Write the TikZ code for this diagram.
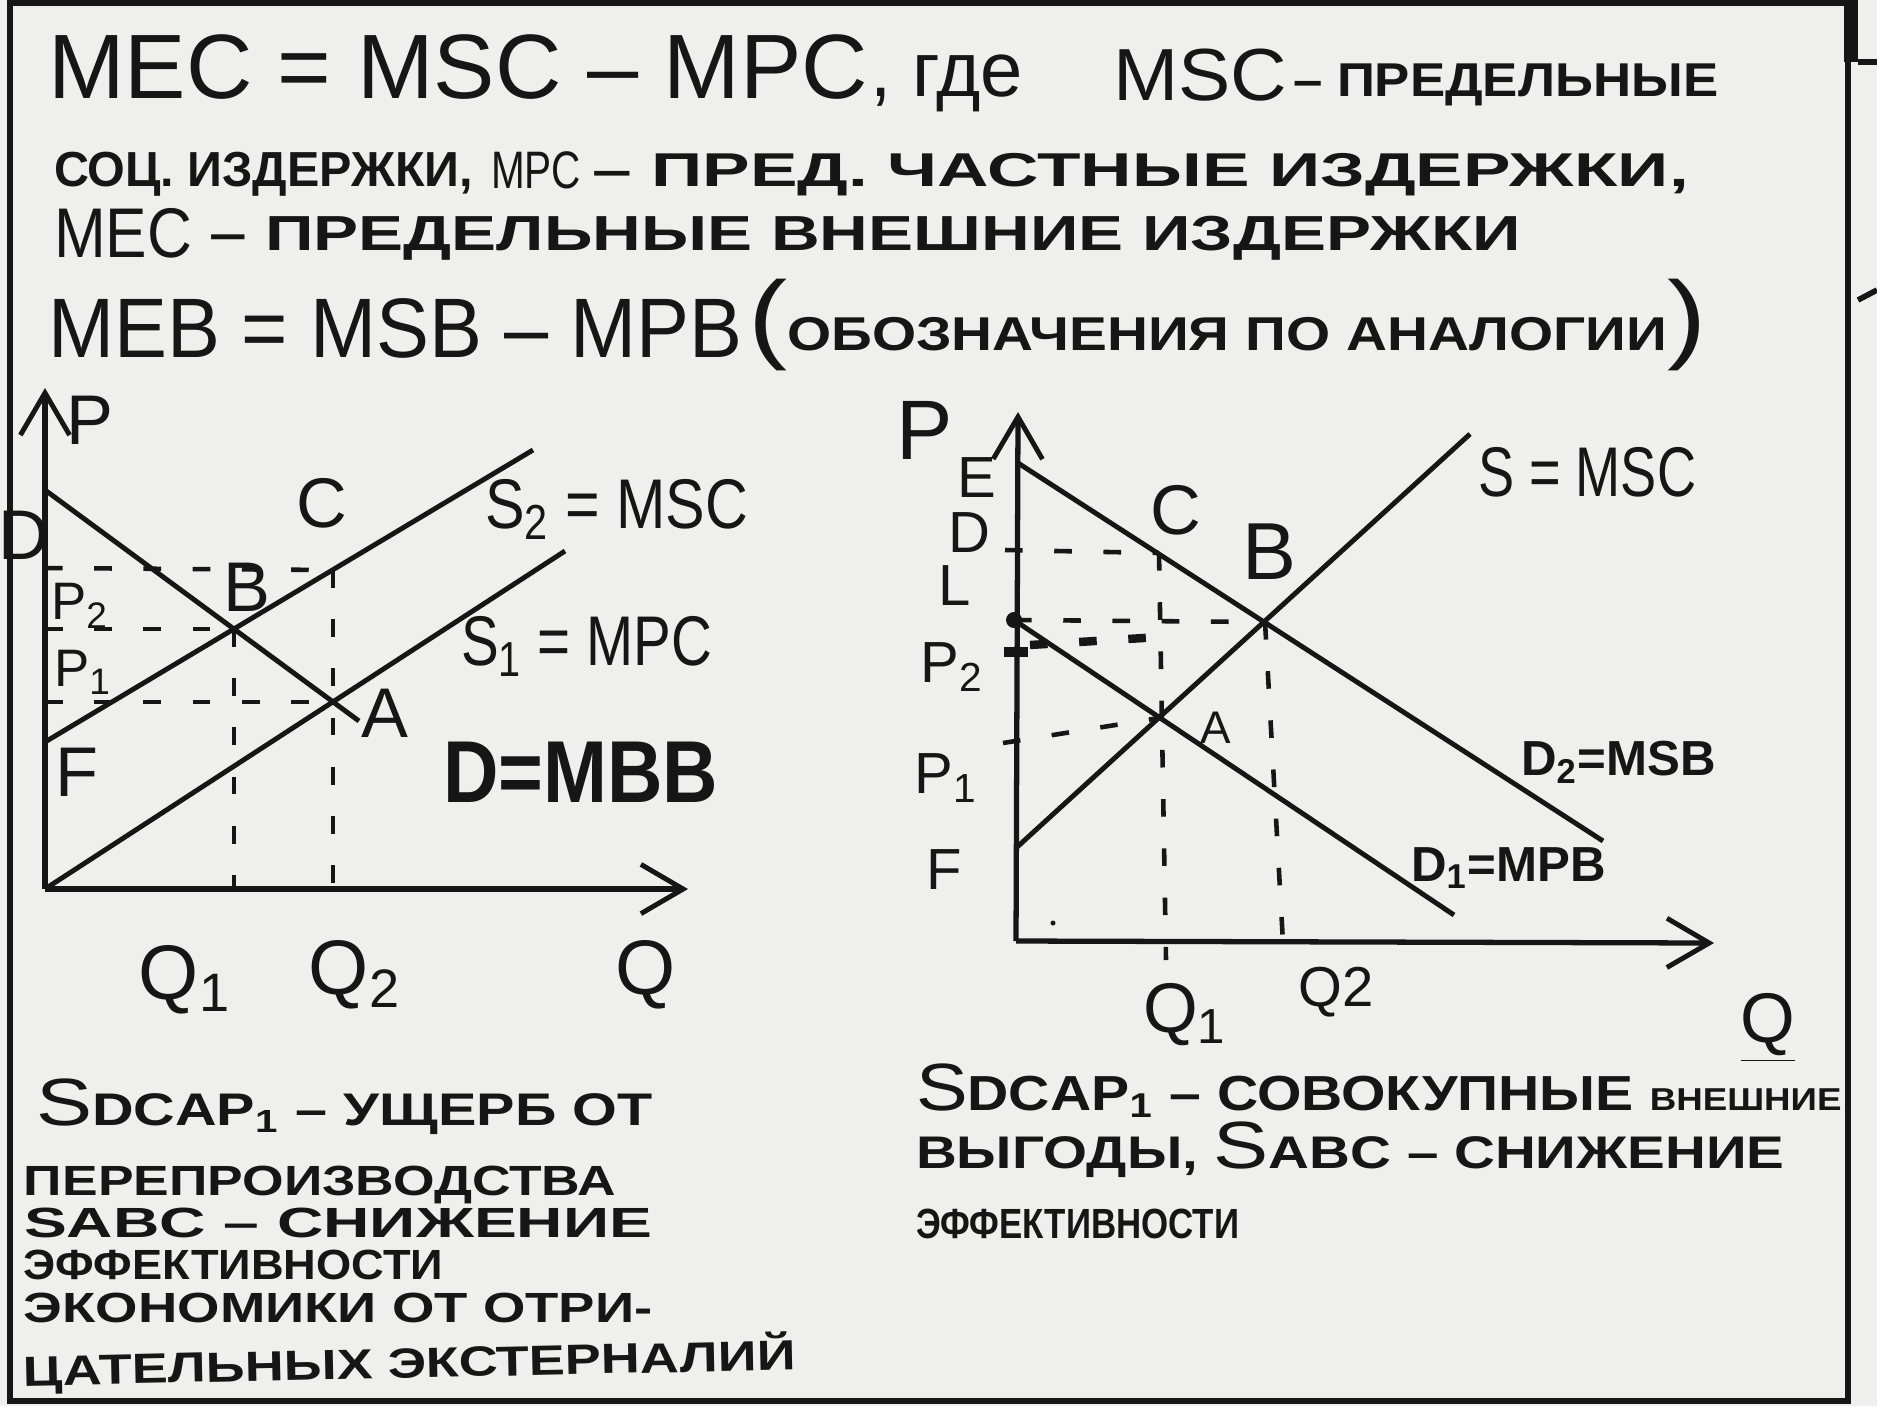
\documentclass[tikz,border=0pt]{standalone}
\usepackage{fontspec}
\usepackage{graphicx}
\setmainfont{Liberation Sans}
\usetikzlibrary{arrows.meta}
\definecolor{paper}{RGB}{239,239,237}
\definecolor{ink}{RGB}{22,22,22}
\newcommand\hwtext[6]{\node[txt,anchor=base west] (#1) at (#2,#3) {\resizebox{#4}{\height}{\fontsize{#5}{#5}\selectfont #6}};}
\newcommand\bigS{{\mdseries\fontsize{19}{19}\selectfont S}}
\begin{document}
\begin{tikzpicture}[x=0.01cm,y=-0.01cm,
  txt/.style={inner sep=0pt,outer sep=0pt,text=ink},
  lbl/.style={inner sep=0pt,outer sep=0pt,text=ink,font=\fontsize{20}{20}\selectfont},
  rlbl/.style={inner sep=0pt,outer sep=0pt,text=ink,font=\fontsize{16.5}{16.5}\selectfont},
  slbl/.style={inner sep=0pt,outer sep=0pt,text=ink,font=\bfseries\fontsize{14}{14}\selectfont},
  curve/.style={line width=1.4pt,draw=ink},
  axisline/.style={line width=1.5pt,draw=ink,-{Straight Barb[length=12pt,width=14pt,line width=1.4pt]}},
  dline/.style={line width=1.3pt,draw=ink,dash pattern=on 5pt off 9pt},
  frameline/.style={line width=1.6pt,draw=ink}]
\useasboundingbox (0,0) rectangle (1877,1406);
\fill[paper] (0,0) rectangle (1877,1406);
% frame
\draw[frameline] (10,3) rectangle (1848,1401);
\fill[ink] (1844,0) rectangle (1858,62);
\draw[frameline] (1858,62) -- (1877,62);
\draw[frameline] (1858,300) -- (1877,290);

% ---------- header text ----------
\hwtext{l1a}{48}{98}{8.2cm}{26}{MEC = MSC – MPC}
\hwtext{l1b}{870}{96}{1.53cm}{22}{, где}
\hwtext{l1c}{1113}{100}{1.74cm}{21}{MSC}
\hwtext{l1d}{1293}{96}{4.25cm}{13.5}{\bfseries – ПРЕДЕЛЬНЫЕ}

\hwtext{l2a}{54}{186}{4.19cm}{14}{\bfseries СОЦ. ИЗДЕРЖКИ,}
\hwtext{l2b}{491}{188}{0.9cm}{15}{MPC}
\hwtext{l2c}{592}{186}{10.96cm}{13.5}{\bfseries – ПРЕД. ЧАСТНЫЕ ИЗДЕРЖКИ,}

\hwtext{l3a}{54}{257}{1.38cm}{20}{MEC}
\hwtext{l3b}{209}{250}{13.11cm}{14}{\bfseries – ПРЕДЕЛЬНЫЕ ВНЕШНИЕ ИЗДЕРЖКИ}

\hwtext{l4a}{48}{357}{6.94cm}{24}{MEB = MSB – MPB}
\hwtext{l4b}{748}{350}{9.58cm}{13.5}{\bfseries {\mdseries\fontsize{28}{28}\selectfont(}ОБОЗНАЧЕНИЯ ПО АНАЛОГИИ{\mdseries\fontsize{28}{28}\selectfont)}}

% ---------- left graph ----------
\coordinate (O1) at (45,889);
\coordinate (Y1) at (45,388);
\coordinate (X1) at (688,889);
\coordinate (F1) at (45,742);
\coordinate (Dt1) at (45,490);
\coordinate (De1) at (359,721);
\coordinate (S2e) at (533,450);
\coordinate (S1e) at (565,551);
\coordinate (B1) at (234,629);
\coordinate (A1) at (333,702);
\coordinate (C1) at (333,570);
\coordinate (B1x) at (234,889);
\coordinate (A1x) at (333,889);
\coordinate (P2y) at (45,629);
\coordinate (P1y) at (45,702);
\coordinate (Cy) at (45,568);

\draw[axisline] (O1) -- (Y1);
\draw[axisline] (O1) -- (X1);
\draw[curve] (Dt1) -- (De1);
\draw[curve] (F1) -- (S2e);
\draw[curve] (O1) -- (S1e);
\draw[dline] (Cy) -- (C1);
\draw[dline] (P2y) -- (B1);
\draw[dline] (P1y) -- (A1);
\draw[dline] (C1) -- (A1x);
\draw[dline] (B1) -- (B1x);

\node[lbl] (pL) at (90,420) {P};
\node[lbl] (dL) at (24,535) {D};
\node[lbl,font=\fontsize{15}{15}\selectfont] (p2L) at (80,606) {P\textsubscript{2}};
\node[lbl,font=\fontsize{15}{15}\selectfont] (p1L) at (83,672) {P\textsubscript{1}};
\node[lbl] (fL) at (77,772) {F};
\node[lbl] (bL) at (247,587) {B};
\node[lbl] (cL) at (322,503) {C};
\node[lbl] (aL) at (385,713) {A};
\node[lbl,anchor=west] (s2L) at (485,509) {\resizebox{2.63cm}{\height}{S\textsubscript{2} = MSC}};
\node[lbl,anchor=west] (s1L) at (461,646) {\resizebox{2.51cm}{\height}{S\textsubscript{1} = MPC}};
\node[lbl,anchor=west,font=\bfseries\fontsize{25}{25}\selectfont] (dmL) at (443,772) {\resizebox{2.75cm}{\height}{D=MBB}};
\node[lbl,font=\fontsize{22}{22}\selectfont] (q1L) at (185,980) {Q\textsubscript{1}};
\node[lbl,font=\fontsize{22}{22}\selectfont] (q2L) at (355,975) {Q\textsubscript{2}};
\node[lbl,font=\fontsize{22}{22}\selectfont] (qL) at (646,975) {Q};

% ---------- right graph ----------
\coordinate (O2) at (1016,941);
\coordinate (Y2) at (1018,412);
\coordinate (X2) at (1714,943);
\coordinate (F2) at (1016,848);
\coordinate (E2) at (1018,463);
\coordinate (D2e) at (1603,841);
\coordinate (Se) at (1470,434);
\coordinate (L2) at (1014,620);
\coordinate (D1e) at (1454,915);
\coordinate (B2) at (1265,622);
\coordinate (A2) at (1159,718);
\coordinate (C2) at (1159,553);
\coordinate (Q1b) at (1166,960);
\coordinate (Q2b) at (1283,943);
\coordinate (Dy2) at (1005,550);
\coordinate (P2a) at (1030,645);
\coordinate (P2b) at (1160,637);
\coordinate (P1y2) at (1003,743);

\draw[axisline] (O2) -- (Y2);
\draw[axisline] (O2) -- (X2);
\draw[curve] (E2) -- (D2e);
\draw[curve] (F2) -- (Se);
\draw[curve] (L2) -- (D1e);
\draw[dline] (Dy2) -- (C2);
\draw[dline] (L2) -- (B2);
\draw[dline,line width=2.4pt] (P2a) -- (P2b);
\draw[line width=2.6pt,draw=ink] (1004,652) -- (1028,652);
\draw[dline] (P1y2) -- (A2);
\draw[dline] (C2) -- (Q1b);
\draw[dline] (B2) -- (Q2b);
\fill[ink] (L2) circle (8);
\fill[ink] (1053,923) circle (2.5);

\node[lbl,font=\fontsize{24}{24}\selectfont] (pR) at (925,430) {P};
\node[rlbl] (eR) at (977,478) {E};
\node[rlbl] (dR) at (969,533) {D};
\node[rlbl] (lR) at (955,586) {L};
\node[rlbl] (p2R) at (952,667) {P\textsubscript{2}};
\node[rlbl] (p1R) at (946,778) {P\textsubscript{1}};
\node[rlbl] (fR) at (944,870) {F};
\node[lbl] (cR) at (1176,510) {C};
\node[lbl,font=\fontsize{23}{23}\selectfont] (bR) at (1269,552) {B};
\node[lbl,font=\fontsize{13}{13}\selectfont] (aR) at (1216,728) {A};
\node[lbl,anchor=west] (sR) at (1478,472) {\resizebox{2.18cm}{\height}{S = MSC}};
\node[slbl,anchor=west] (d2R) at (1521,762) {D\textsubscript{2}=MSB};
\node[slbl,anchor=west] (d1R) at (1411,868) {D\textsubscript{1}=MPB};
\node[lbl] (q1R) at (1185,1015) {Q\textsubscript{1}};
\node[lbl,font=\fontsize{16}{16}\selectfont] (q2R) at (1336,992) {Q2};
\node[lbl] (qR) at (1768,1028) {\underline{Q}};

% ---------- bottom left text ----------
\hwtext{bl1}{36}{1125}{6.16cm}{13}{\bfseries \bigS DCAP\textsubscript{1} – УЩЕРБ ОТ}
\hwtext{bl2}{24}{1195}{5.92cm}{12}{\bfseries ПЕРЕПРОИЗВОДСТВА}
\hwtext{bl3}{24}{1237}{6.28cm}{12}{\bfseries SABC – СНИЖЕНИЕ}
\hwtext{bl4}{24}{1279}{4.19cm}{12}{\bfseries ЭФФЕКТИВНОСТИ}
\hwtext{bl5}{24}{1322}{6.28cm}{12}{\bfseries ЭКОНОМИКИ ОТ ОТРИ-}
\node[txt,anchor=base west,rotate=1.2] (bl6) at (24,1386) {\resizebox{7.72cm}{\height}{\fontsize{12}{12}\selectfont\bfseries ЦАТЕЛЬНЫХ ЭКСТЕРНАЛИЙ}};

% ---------- bottom right text ----------
\hwtext{br1}{916}{1110}{9.25cm}{14}{\bfseries \bigS DCAP\textsubscript{1} – СОВОКУПНЫЕ {\fontsize{9}{9}\selectfont ВНЕШНИЕ}}
\hwtext{br2}{916}{1168}{8.68cm}{13}{\bfseries ВЫГОДЫ, \bigS ABC – СНИЖЕНИЕ}
\hwtext{br3}{916}{1238}{3.23cm}{12}{\bfseries ЭФФЕКТИВНОСТИ}
\end{tikzpicture}
\end{document}
